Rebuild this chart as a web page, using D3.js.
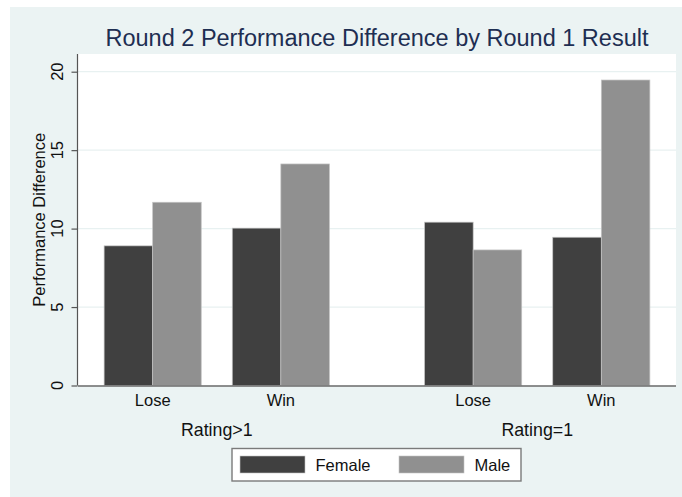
<!DOCTYPE html>
<html>
<head>
<meta charset="utf-8">
<script src="https://cdn.jsdelivr.net/npm/d3@7"></script>
<style>
  html, body { margin: 0; padding: 0; background: #ffffff; }
  svg { display: block; font-family: "Liberation Sans", Arial, Helvetica, sans-serif; }
</style>
</head>
<body>
<svg id="chart" width="682" height="497"></svg>
<script>
// ---- Data ----
const groups = ["Rating>1", "Rating=1"];
const results = ["Lose", "Win"];
const sexes = ["Female", "Male"];
// order: Rating>1 Lose, Rating>1 Win, Rating=1 Lose, Rating=1 Win
const femaleValues = [8.9, 10.03, 10.41, 9.45];
const maleValues = [11.68, 14.12, 8.64, 19.47];
const yTicks = [0, 5, 10, 15, 20];
const titleText = "Round 2 Performance Difference by Round 1 Result";
const yTitle = "Performance Difference";

const colors = { Female: "#404040", Male: "#909090" };

// build rows
const rows = [];
groups.forEach((g, gi) => {
  results.forEach((r, ri) => {
    const idx = gi * results.length + ri;
    rows.push({ group: g, result: r, sex: "Female", value: femaleValues[idx] });
    rows.push({ group: g, result: r, sex: "Male", value: maleValues[idx] });
  });
});

const svg = d3.select("#chart");

// background
svg.append("rect").attr("x", 10).attr("y", 7).attr("width", 672).attr("height", 490)
  .attr("fill", "#ebf3f3");

const plot = { left: 78, right: 676, top: 54, bottom: 385.5 };

svg.append("rect").attr("x", plot.left).attr("y", plot.top)
  .attr("width", plot.right - plot.left).attr("height", plot.bottom - plot.top)
  .attr("fill", "#ffffff");

// scales
const y = d3.scaleLinear().domain([0, 20]).range([385.5, 71.7]);
const xGroup = d3.scaleBand().domain(groups).range([plot.left, plot.right])
  .paddingInner(0.297).paddingOuter(0.0815);
const xResult = d3.scaleBand().domain(results).range([0, xGroup.bandwidth()])
  .paddingInner(0.242).paddingOuter(0);
const xSex = d3.scaleBand().domain(sexes).range([0, xResult.bandwidth()]).padding(0);

// gridlines
svg.append("g").selectAll("line").data(yTicks.filter(d => d > 0)).join("line")
  .attr("x1", plot.left).attr("x2", plot.right)
  .attr("y1", d => y(d)).attr("y2", d => y(d))
  .attr("stroke", "#e8f1f1").attr("stroke-width", 1.2);

// bars
svg.append("g").selectAll("rect").data(rows).join("rect")
  .attr("x", d => xGroup(d.group) + xResult(d.result) + xSex(d.sex))
  .attr("width", xSex.bandwidth())
  .attr("y", d => y(d.value))
  .attr("height", d => y(0) - y(d.value))
  .attr("fill", d => colors[d.sex])
  .attr("stroke", "#c4c4c4").attr("stroke-width", 0.7);

// y axis
const yAxis = d3.axisLeft(y).tickValues(yTicks).tickSize(6).tickFormat("");
const yg = svg.append("g").attr("transform", `translate(${plot.left - 0.5},0)`).call(yAxis);
yg.select(".domain").attr("stroke", "#555").attr("stroke-width", 1.2)
  .attr("d", `M0,${plot.top}V${y(0)}`);
yg.selectAll(".tick line").attr("stroke", "#555").attr("stroke-width", 1.2);

svg.append("g").selectAll("text").data(yTicks).join("text")
  .attr("transform", d => `translate(63,${y(d)}) rotate(-90)`)
  .attr("text-anchor", "middle")
  .attr("font-size", 16.5).attr("fill", "#111")
  .text(d => d);

// y title
svg.append("text").attr("transform", `translate(45,${(plot.top + plot.bottom) / 2}) rotate(-90)`)
  .attr("text-anchor", "middle").attr("font-size", 16.5).attr("fill", "#111")
  .text(yTitle);

// x axis line
svg.append("line").attr("x1", plot.left).attr("x2", plot.right)
  .attr("y1", y(0) + 0.5).attr("y2", y(0) + 0.5)
  .attr("stroke", "#6a6a6a").attr("stroke-width", 1.6);

// result labels
const resultLabels = [];
groups.forEach(g => results.forEach(r => resultLabels.push({ group: g, result: r })));
svg.append("g").selectAll("text").data(resultLabels).join("text")
  .attr("x", d => xGroup(d.group) + xResult(d.result) + xResult.bandwidth() / 2)
  .attr("y", 405.5)
  .attr("text-anchor", "middle").attr("font-size", 16.5).attr("fill", "#111")
  .text(d => d.result);

// group labels
svg.append("g").selectAll("text").data(groups).join("text")
  .attr("x", d => xGroup(d) + xGroup.bandwidth() / 2)
  .attr("y", 435.5)
  .attr("text-anchor", "middle").attr("font-size", 17.8).attr("fill", "#111")
  .text(d => d);

// title
svg.append("text").attr("x", (plot.left + plot.right) / 2).attr("y", 46)
  .attr("text-anchor", "middle").attr("font-size", 23.5).attr("fill", "#1e2e52")
  .text(titleText);

// legend
const legend = svg.append("g");
legend.append("rect").attr("x", 232).attr("y", 448.5).attr("width", 289).attr("height", 32.5)
  .attr("fill", "#ffffff").attr("stroke", "#7a7a7a").attr("stroke-width", 1.4);
const legendX = d3.scaleOrdinal().domain(sexes).range([240, 399]);
const li = legend.selectAll("g.item").data(sexes).join("g").attr("class", "item")
  .attr("transform", d => `translate(${legendX(d)},0)`);
li.append("rect").attr("x", 0).attr("y", 456).attr("width", 65).attr("height", 17)
  .attr("fill", d => colors[d]).attr("stroke", "#c4c4c4").attr("stroke-width", 0.6);
li.append("text").attr("x", 75.5).attr("y", 470.5)
  .attr("font-size", 16.5).attr("fill", "#111").text(d => d);
</script>
</body>
</html>
